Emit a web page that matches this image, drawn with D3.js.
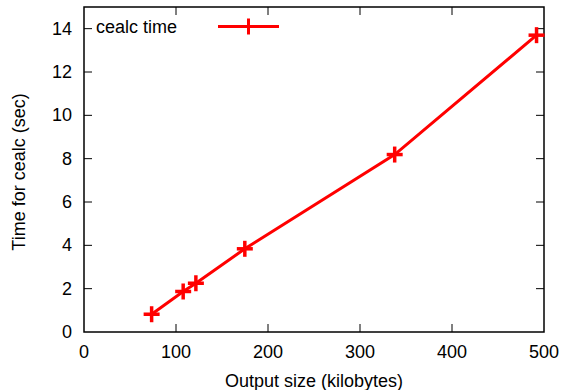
<!DOCTYPE html>
<html>
<head>
<meta charset="utf-8">
<script src="https://cdn.jsdelivr.net/npm/d3@7"></script>
<style>
  body { margin: 0; background: #fff; }
  svg text { font-family: "Liberation Sans", Arial, sans-serif; }
</style>
</head>
<body>
<div id="chart"></div>
<script>
const sizes = [73.5, 107.8, 121.6, 174.8, 337.7, 491.9];
const times = [0.82, 1.87, 2.25, 3.84, 8.19, 13.7];
const xTicks = [0, 100, 200, 300, 400, 500];
const yTicks = [0, 2, 4, 6, 8, 10, 12, 14];
const seriesName = 'cealc time';

const width = 564, height = 390;
const margin = { left: 84, right: 20, top: 7, bottom: 58 };
const fs = 18;

const svg = d3.select('#chart').append('svg')
  .attr('width', width)
  .attr('height', height);

const x = d3.scaleLinear().domain([0, 500]).range([margin.left, width - margin.right]);
const y = d3.scaleLinear().domain([0, 15]).range([height - margin.bottom, margin.top]);

const tickLen = 8;

// inward ticks on all four sides
const axisG = svg.append('g').attr('stroke', '#000').attr('stroke-width', 1);
xTicks.slice(1, -1).forEach(t => {
  axisG.append('line').attr('x1', x(t)).attr('x2', x(t))
    .attr('y1', y(0)).attr('y2', y(0) - tickLen);
  axisG.append('line').attr('x1', x(t)).attr('x2', x(t))
    .attr('y1', y(15)).attr('y2', y(15) + tickLen);
});
yTicks.slice(1).forEach(t => {
  axisG.append('line').attr('x1', x(0)).attr('x2', x(0) + tickLen)
    .attr('y1', y(t)).attr('y2', y(t));
  axisG.append('line').attr('x1', x(500)).attr('x2', x(500) - tickLen)
    .attr('y1', y(t)).attr('y2', y(t));
});

// frame
svg.append('rect')
  .attr('x', x(0)).attr('y', y(15))
  .attr('width', x(500) - x(0)).attr('height', y(0) - y(15))
  .attr('fill', 'none').attr('stroke', '#000').attr('stroke-width', 1.5);

// tick labels
svg.selectAll('.xl').data(xTicks).join('text')
  .attr('x', d => x(d)).attr('y', 358)
  .attr('text-anchor', 'middle').attr('font-size', fs)
  .text(d => d);
svg.selectAll('.yl').data(yTicks).join('text')
  .attr('x', 72).attr('y', d => y(d) + 6)
  .attr('text-anchor', 'end').attr('font-size', fs)
  .text(d => d);

// axis titles
svg.append('text')
  .attr('x', 314).attr('y', 387)
  .attr('text-anchor', 'middle').attr('font-size', fs)
  .text('Output size (kilobytes)');
svg.append('text')
  .attr('transform', `translate(25, 172) rotate(-90)`)
  .attr('text-anchor', 'middle').attr('font-size', fs)
  .text('Time for cealc (sec)');

// series
const pts = sizes.map((s, i) => [s, times[i]]);
const red = '#ff0000';
svg.append('path')
  .datum(pts)
  .attr('fill', 'none').attr('stroke', red).attr('stroke-width', 3)
  .attr('d', d3.line().x(d => x(d[0])).y(d => y(d[1])));

const plus = (g, cx, cy) => {
  g.append('line').attr('x1', cx - 8).attr('x2', cx + 8).attr('y1', cy).attr('y2', cy);
  g.append('line').attr('x1', cx).attr('x2', cx).attr('y1', cy - 8).attr('y2', cy + 8);
};
const marks = svg.append('g').attr('stroke', red).attr('stroke-width', 3.5);
pts.forEach(d => plus(marks, x(d[0]), y(d[1])));

// legend
svg.append('text')
  .attr('x', 96).attr('y', 33).attr('font-size', fs)
  .text(seriesName);
const lg = svg.append('g').attr('stroke', red).attr('stroke-width', 3);
lg.append('line').attr('x1', 218).attr('x2', 279).attr('y1', 26.5).attr('y2', 26.5);
plus(lg, 248.5, 26.5);
</script>
</body>
</html>
